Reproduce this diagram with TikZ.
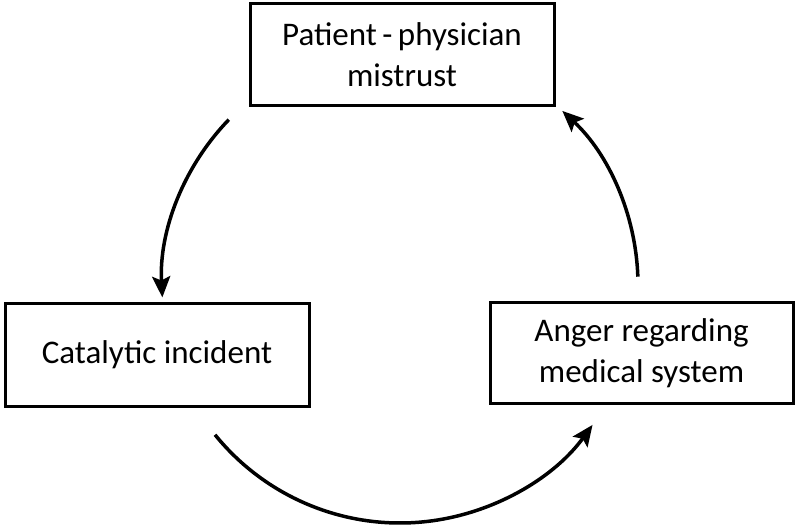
\documentclass[tikz,border=0pt]{standalone}
\usepackage{fontspec}
\setmainfont{Carlito}
\usetikzlibrary{arrows.meta}
\begin{document}
\begin{tikzpicture}[x=1pt,y=1pt,
  box/.style={draw=black, line width=3pt, inner sep=0pt, align=center,
    font=\fontsize{33}{41}\selectfont},
  cyc/.style={line width=3.5pt, -{Stealth[length=21pt,width=18pt,inset=4pt]}}]
\useasboundingbox (0,0) rectangle (800,-526);
\node[box, minimum width=304pt, minimum height=102pt] (top) at (402,-55) {Patient\,-\,physician\\mistrust};
\node[box, minimum width=304pt, minimum height=102pt] (left) at (157,-355) {Catalytic incident};
\node[box, minimum width=303pt, minimum height=100pt] (right) at (641.5,-353) {Anger regarding\\medical system};
\coordinate (c) at (400,-285);
\draw[cyc] (c) ++(136:238) coordinate (a1) arc[start angle=136, end angle=183, radius=238];
\draw[cyc] (c) ++(219:238) coordinate (a2) arc[start angle=219, end angle=324, radius=238];
\draw[cyc] (c) ++(2:238) coordinate (a3) arc[start angle=2, end angle=47, radius=238];
\end{tikzpicture}
\end{document}
